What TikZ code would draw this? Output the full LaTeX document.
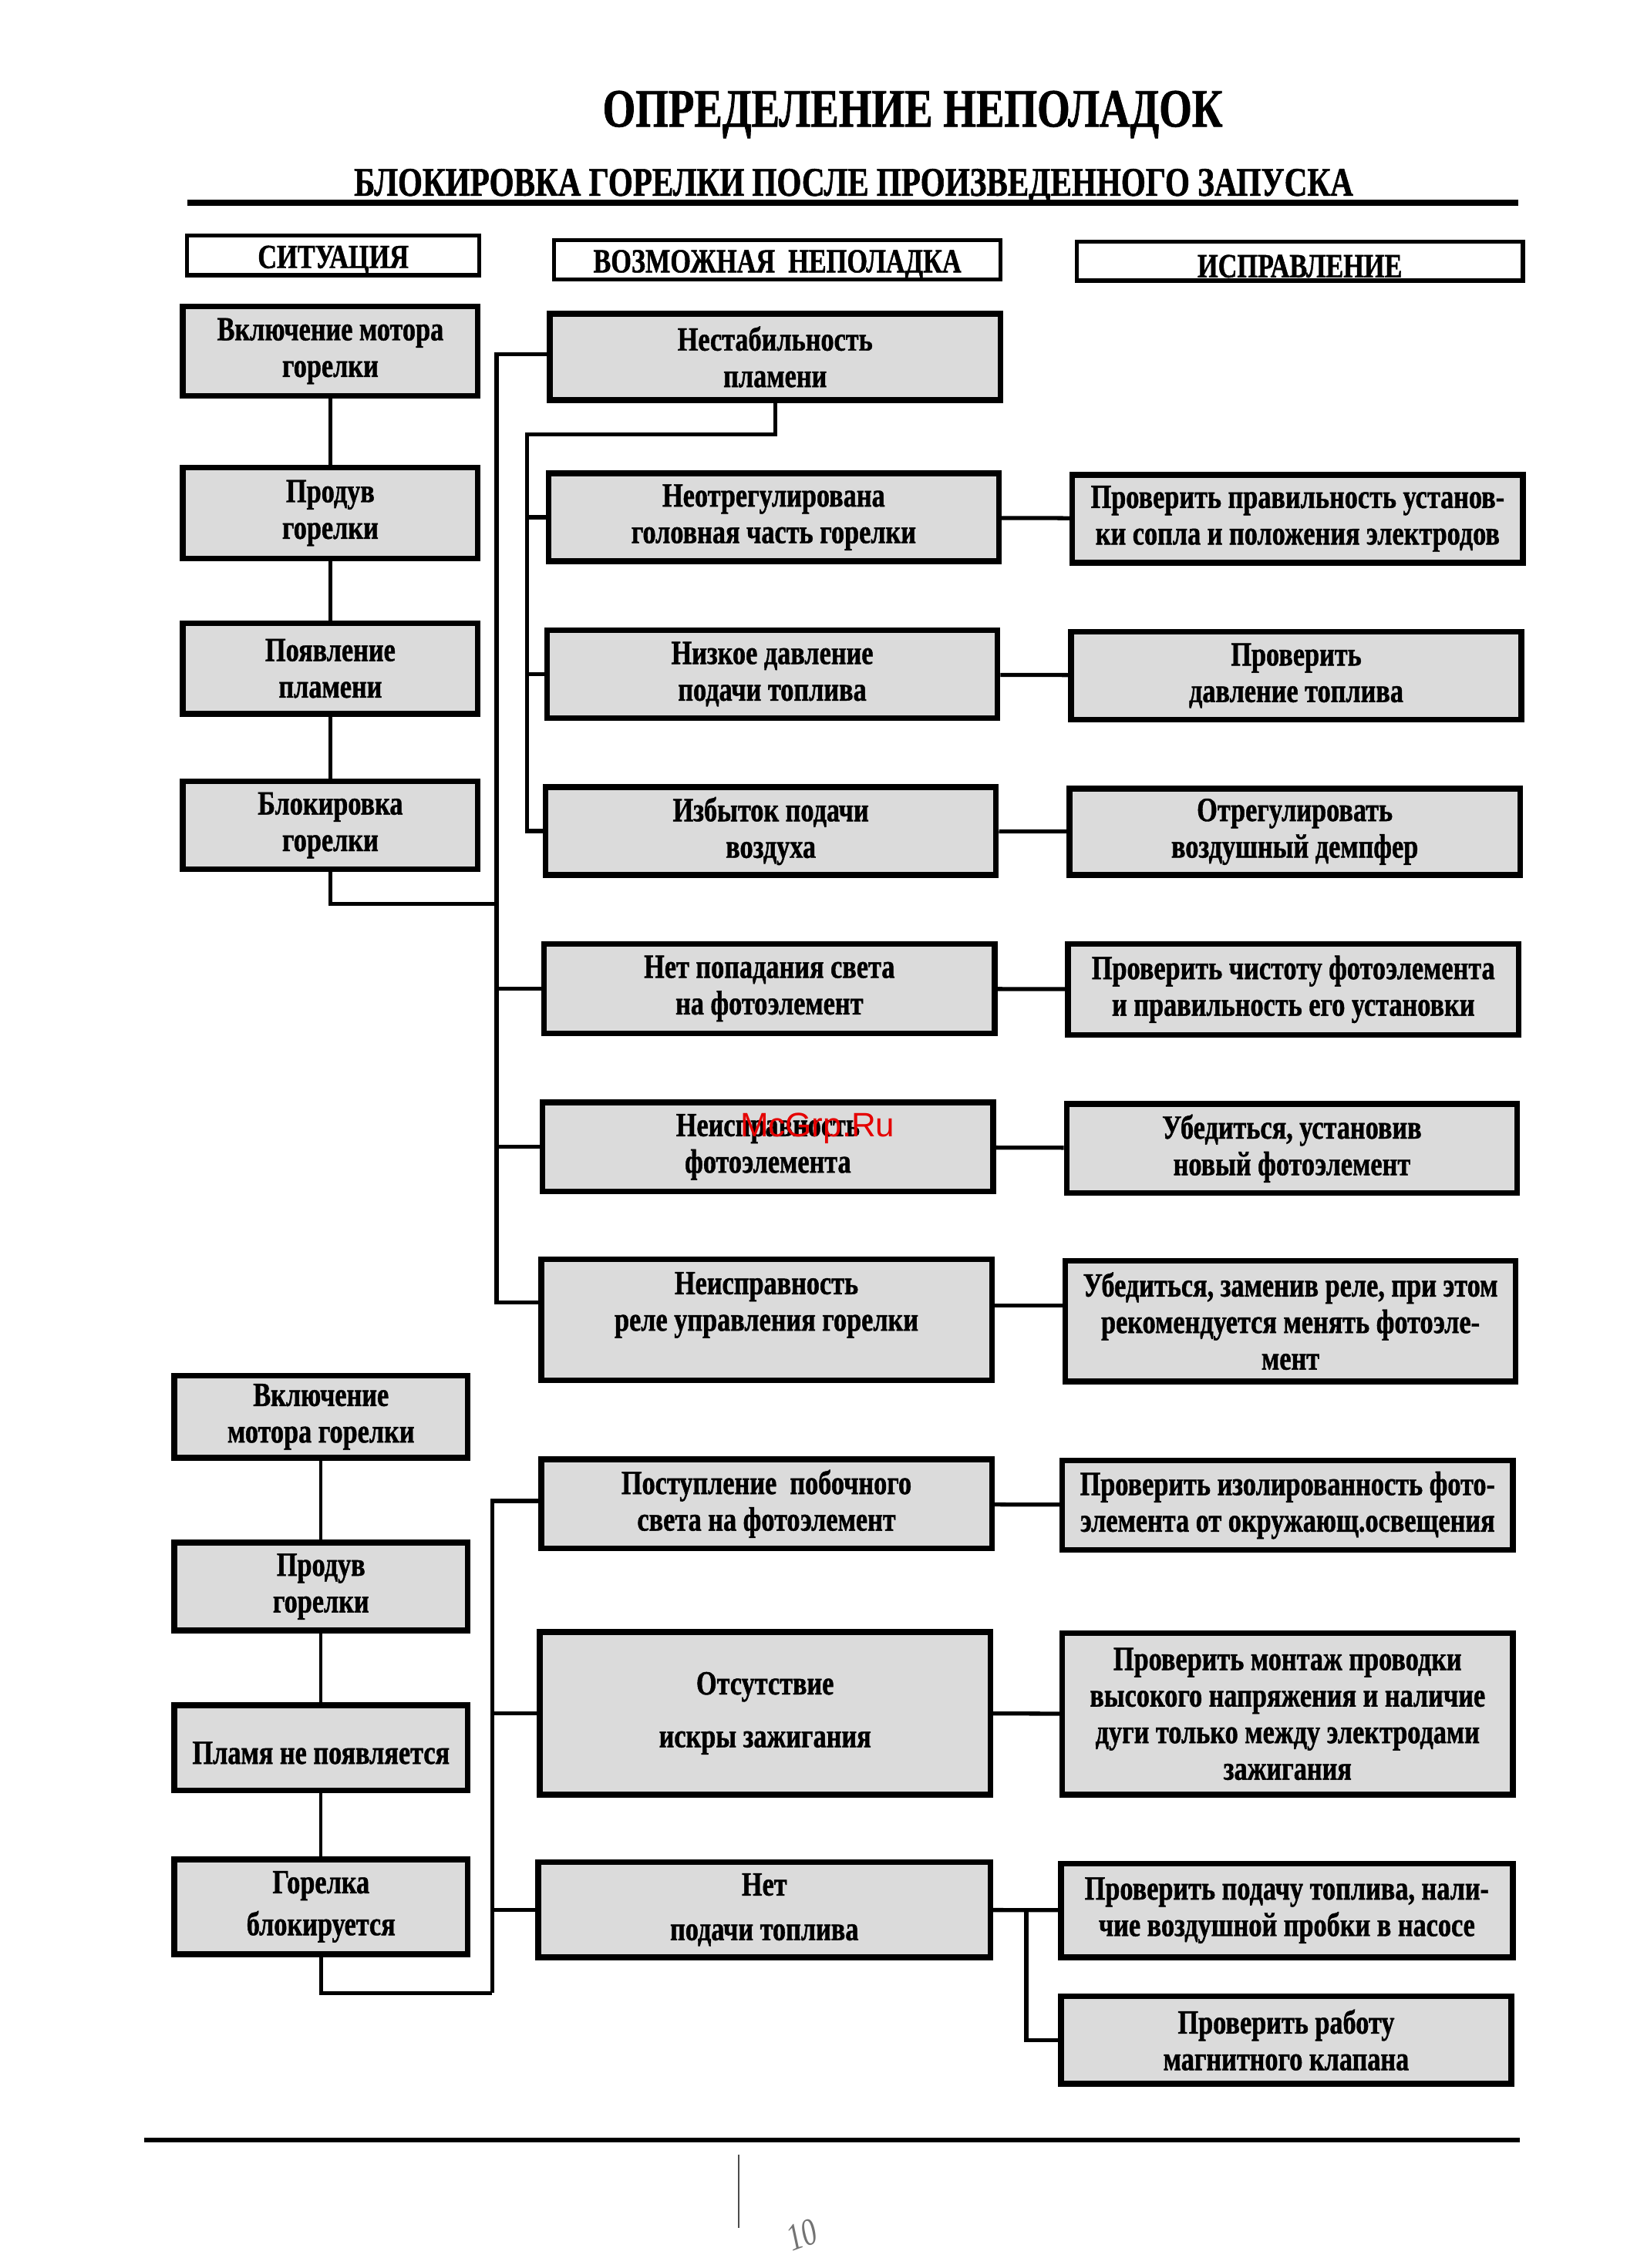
\documentclass[tikz,border=0pt]{standalone}
\usepackage{fontspec}
\setmainfont{Liberation Serif}[FakeStretch=0.78, BoldFeatures={FakeBold=1}]
\newfontfamily\wmfont{Liberation Sans}
\usetikzlibrary{calc}
\newcommand\bx[7][box]{\node[#1, minimum width={(#5-#3)*0.018673cm}, minimum height={(#6-#4)*0.018673cm}] (#2) at ({(#3+#5)/2},{(#4+#6)/2}) {#7};}
\begin{document}
\begin{tikzpicture}[x=0.018673cm,y=-0.018673cm,
  box/.style={draw, line width=2.1pt, fill=black!14, inner sep=0pt, align=center,
    font=\bfseries\fontsize{12.5}{13.5}\selectfont,
    execute at begin node={\rule{0pt}{12pt}}},
  hdr/.style={draw, line width=1.5pt, fill=white, inner sep=0pt, align=center,
    font=\bfseries\fontsize{12.5}{14}\selectfont,
    execute at begin node={\rule{0pt}{12pt}}},
  conn/.style={line width=1.5pt},
  thinconn/.style={line width=1.2pt},
  rulestyle/.style={line width=2.2pt}]
\useasboundingbox (0,0) rectangle (1130,1576);
\fill[white] (0,0) rectangle (1130,1576);

% titles
\node[font=\bfseries\fontsize{20}{24}\selectfont, anchor=base] (title) at (634,88) {ОПРЕДЕЛЕНИЕ НЕПОЛАДОК};
\node[font=\bfseries\fontsize{15}{17}\selectfont, anchor=base] (subtitle) at (593,136) {БЛОКИРОВКА ГОРЕЛКИ ПОСЛЕ ПРОИЗВЕДЕННОГО ЗАПУСКА};
\coordinate (ruleA) at (130,141);
\coordinate (ruleB) at (1055,141);
\draw[rulestyle] (ruleA) -- (ruleB);

% headers
\bx[hdr]{H1}{130}{164}{333}{191}{СИТУАЦИЯ}
\bx[hdr]{H2}{385}{167}{695}{194}{ВОЗМОЖНАЯ\ \ НЕПОЛАДКА}
\bx[hdr]{H3}{748}{168}{1058}{195}{ИСПРАВЛЕНИЕ}

% ---------- section 1 ----------
\bx{A1}{127}{213}{332}{275}{Включение мотора\\горелки}
\bx{A2}{127}{325}{332}{388}{Продув\\горелки}
\bx{A3}{127}{433}{332}{496}{Появление\\пламени}
\bx{A4}{127}{543}{332}{604}{Блокировка\\горелки}

\bx{B1}{382}{218}{695}{278}{Нестабильность\\пламени}
\bx{B2}{381}{329}{694}{390}{Неотрегулирована\\головная часть горелки}
\bx{B3}{380}{438}{693}{499}{Низкое давление\\подачи топлива}
\bx{B4}{379}{547}{692}{608}{Избыток подачи\\воздуха}
\bx{B5}{378}{656}{691}{718}{Нет попадания света\\на фотоэлемент}
\bx{B6}{377}{766}{690}{828}{Неисправность\\фотоэлемента}
\bx{B7}{376}{875}{689}{959}{Неисправность\\реле управления горелки\\\mbox{}}

\bx{C2}{745}{330}{1058}{391}{Проверить правильность установ-\\ки сопла и положения электродов}
\bx{C3}{744}{439}{1057}{500}{Проверить\\давление топлива}
\bx{C4}{743}{548}{1056}{608}{Отрегулировать\\воздушный демпфер}
\bx{C5}{742}{656}{1055}{719}{Проверить чистоту фотоэлемента\\и правильность его установки}
\bx{C6}{741}{767}{1054}{829}{Убедиться, установив\\новый фотоэлемент}
\bx{C7}{740}{876}{1053}{960}{Убедиться, заменив реле, при этом\\рекомендуется менять фотоэле-\\мент}

\draw[thinconn] (A1) -- (A2);
\draw[thinconn] (A2) -- (A3);
\draw[thinconn] (A3) -- (A4);

\coordinate (b1top) at (345,246);
\coordinate (b1join) at (345,628);
\coordinate (b1bot) at (345,905);
\draw[conn] (B1.west |- b1top) -- (b1top) -- (b1bot) -- (B7.west |- b1bot);
\draw[conn] (A4.south) |- (b1join);
\draw[conn] (b1top |- B5.west) -- (B5.west);
\draw[conn] (b1top |- B6.west) -- (B6.west);

\coordinate (b2top) at (366,302);
\draw[conn] (B1.south) |- (b2top) -- (b2top |- B4.west) -- (B4.west);
\draw[conn] (b2top |- B2.west) -- (B2.west);
\draw[conn] (b2top |- B3.west) -- (B3.west);

\draw[conn] (B2) -- (C2);
\draw[conn] (B3) -- (C3);
\draw[conn] (B4) -- (C4);
\draw[conn] (B5) -- (C5);
\draw[conn] (B6) -- (C6);
\coordinate (r7) at (700,907);
\draw[conn] (B7.east |- r7) -- (C7.west |- r7);

% ---------- section 2 ----------
\bx{D1}{121}{956}{325}{1013}{Включение\\мотора горелки}
\bx{D2}{121}{1072}{325}{1133}{Продув\\горелки}
\bx{D3}{121}{1185}{325}{1244}{Пламя не появляется}
\bx{D4}{121}{1292}{325}{1358}{Горелка\\[2pt]блокируется}

\bx{E1}{376}{1014}{689}{1076}{Поступление\ \ побочного\\света на фотоэлемент}
\bx{E2}{375}{1134}{688}{1247}{Отсутствие\\[6pt]искры зажигания}
\bx{E3}{374}{1294}{688}{1360}{Нет\\[3pt]подачи топлива}

\bx{F1}{738}{1015}{1051}{1077}{Проверить изолированность фото-\\элемента от окружающ.освещения}
\bx{F2}{738}{1135}{1051}{1247}{Проверить монтаж проводки\\высокого напряжения и наличие\\дуги только между электродами\\зажигания}
\bx{F3}{737}{1295}{1051}{1360}{Проверить подачу топлива, нали-\\чие воздушной пробки в насосе}
\bx{F4}{737}{1387}{1050}{1448}{Проверить работу\\магнитного клапана}

\draw[thinconn] (D1) -- (D2);
\draw[thinconn] (D2) -- (D3);
\draw[thinconn] (D3) -- (D4);

\coordinate (b3top) at (342,1043);
\coordinate (b3bot) at (342,1385);
\draw[conn] (E1.west |- b3top) -- (b3top) -- (b3bot);
\draw[conn] (D4.south) |- (b3bot);
\draw[conn] (b3top |- E2.west) -- (E2.west);
\draw[conn] (b3top |- E3.west) -- (E3.west);

\draw[conn] (E1) -- (F1);
\draw[conn] (E2) -- (F2);
\draw[conn] (E3) -- (F3);
\coordinate (f4j) at (713,1327);
\draw[conn] (f4j) |- (F4.west);

% bottom rule and page marks
\coordinate (botA) at (100,1487);
\coordinate (botB) at (1056,1487);
\draw[line width=1.8pt] (botA) -- (botB);
\coordinate (pmA) at (513,1497);
\coordinate (pmB) at (513,1548);
\draw[line width=0.5pt, black!70] (pmA) -- (pmB);
\node[font=\itshape\fontsize{14}{14}\selectfont, text=black!55, rotate=20] (pagenum) at (557,1553) {10};

% watermark
\node[font=\wmfont\fontsize{12.5}{12.5}\selectfont, text=red!90!black] (wm) at (568,784) {McGrp.Ru};
\end{tikzpicture}
\end{document}
